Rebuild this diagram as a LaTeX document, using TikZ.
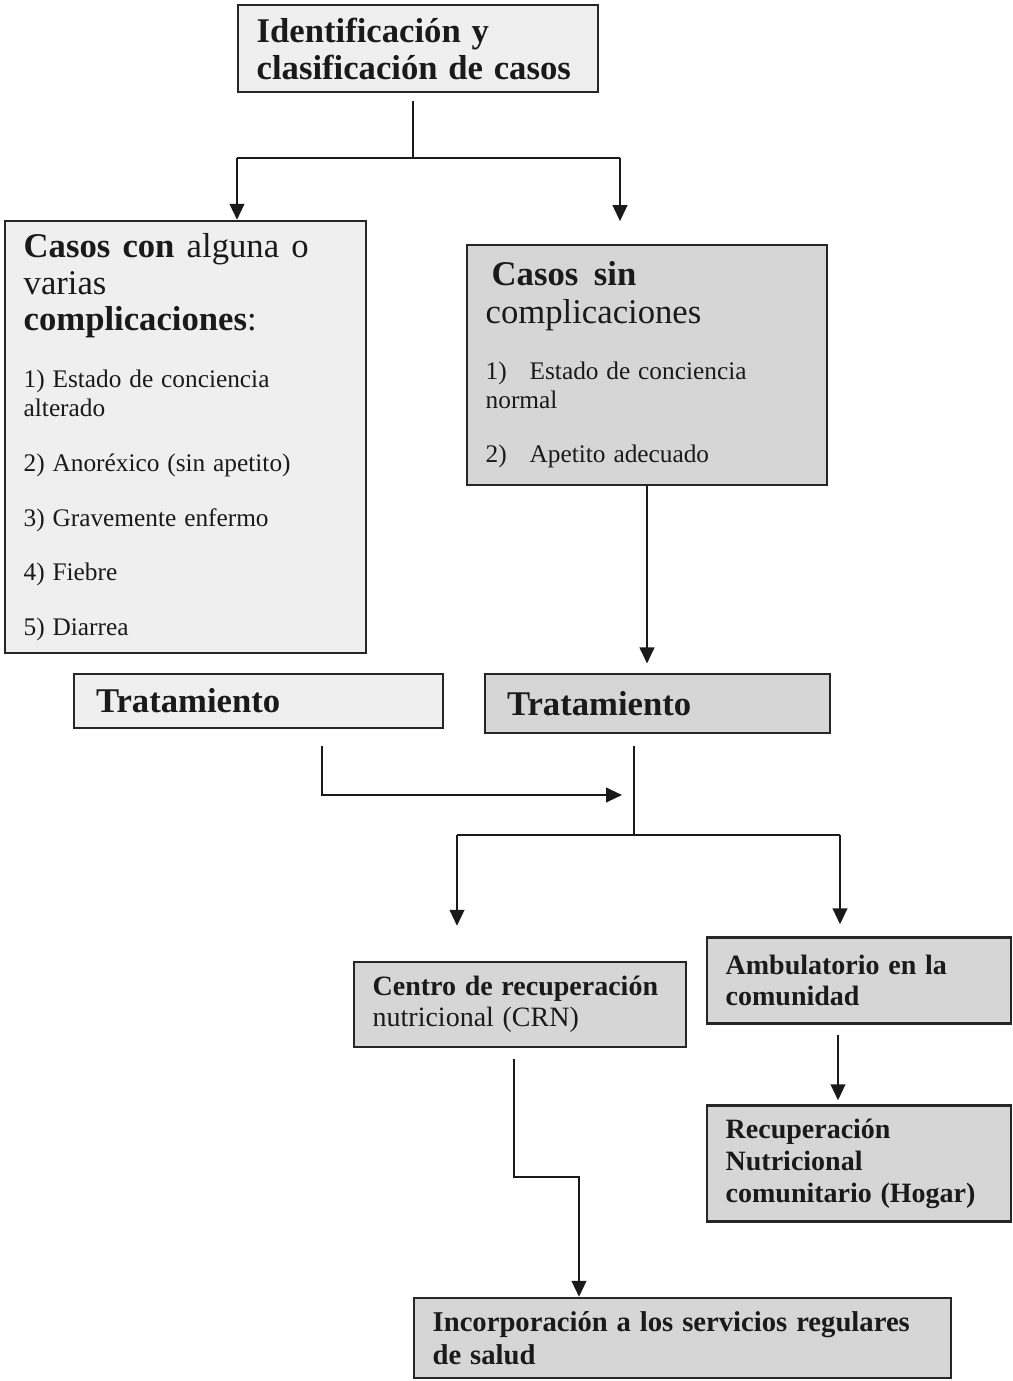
\documentclass[tikz,border=0pt]{standalone}
\usepackage{fontspec}
\setmainfont{Liberation Serif}
\usetikzlibrary{arrows.meta}
\setlength{\parindent}{0pt}
\setlength{\parskip}{0pt}
\newcommand\wsp{\spaceskip=0.31em plus 0.15em minus 0.04em\relax}
\definecolor{lightfill}{HTML}{EFEFEF}
\definecolor{greyfill}{HTML}{D6D6D6}
\definecolor{edge}{HTML}{262626}
\definecolor{ink}{HTML}{1A1A1A}
\begin{document}
\begin{tikzpicture}[x=0.75pt,y=-0.75pt,
 boxbase/.style={draw=edge,line width=1.8pt,align=left,inner xsep=14pt,inner ysep=0pt,text=ink},
 light/.style={boxbase,fill=lightfill},
 grey/.style={boxbase,fill=greyfill},
 conn/.style={draw=ink,line width=1.5pt},
 arr/.style={conn,-{Triangle[length=12pt,width=11pt]}}]
\useasboundingbox[fill=white] (0,0) rectangle (1013,1381);

\node[light,minimum width=270pt,minimum height=65.25pt,text width=242pt] (ident) at (418,48.5)
 {\fontsize{26}{27.75}\selectfont\bfseries\wsp Identificación y\\clasificación de casos\par};

\node[light,minimum width=270.75pt,minimum height=324pt,text width=242.75pt] (compl) at (185.5,437) {%
\fontsize{26}{27.5}\selectfont\wsp\leavevmode\hbox to 213.75pt{\textbf{Casos}\hfil\textbf{con}\hfil alguna\hfil o}\\varias\\\textbf{complicaciones}:\par
\fontsize{19}{21.75}\selectfont\wsp\vspace{21pt}1) Estado de conciencia\\alterado\par
\vspace{19.15pt}2) Anoréxico (sin apetito)\par
\vspace{19.15pt}3) Gravemente enfermo\par
\vspace{19.15pt}4) Fiebre\par
\vspace{19.15pt}5) Diarrea\par};

\node[grey,minimum width=270pt,minimum height=180pt,text width=242pt] (sincompl) at (647,365) {%
\fontsize{26}{28.5}\selectfont\wsp\hspace*{4.5pt}\textbf{Casos\hspace{0.45em}sin}\\complicaciones\par
\fontsize{19}{21.75}\selectfont\wsp\vspace{20.25pt}\makebox[33pt][l]{1)}Estado de conciencia\\normal\par
\vspace{18.75pt}\makebox[33pt][l]{2)}Apetito adecuado\par};

\node[light,inner xsep=16.5pt,minimum width=276.75pt,minimum height=40.5pt,text width=243.75pt] (tratL) at (258.5,701)
 {\fontsize{26}{28}\selectfont\bfseries Tratamiento\par};
\node[grey,inner xsep=16.5pt,minimum width=258.75pt,minimum height=44.25pt,text width=225.75pt] (tratR) at (657.5,703.5)
 {\fontsize{26}{28}\selectfont\bfseries Tratamiento\par};

\node[grey,minimum width=249pt,minimum height=63.75pt,text width=221pt] (crn) at (520,1004.5)
 {\fontsize{21}{23.25}\selectfont\wsp\textbf{Centro de recuperación}\\nutricional (CRN)\par};
\node[grey,minimum width=228pt,minimum height=64.5pt,text width=200pt] (amb) at (859,980.5)
 {\fontsize{21}{23.25}\selectfont\bfseries\wsp Ambulatorio en la\\comunidad\par};
\node[grey,minimum width=228pt,minimum height=87pt,text width=200pt] (rec) at (859,1163.5)
 {\fontsize{21}{24}\selectfont\bfseries\wsp Recuperación\\Nutricional\\comunitario (Hogar)\par};
\node[grey,minimum width=402.75pt,minimum height=60pt,text width=374.75pt] (inc) at (682.5,1338)
 {\fontsize{21.5}{24.75}\selectfont\bfseries\wsp Incorporación a los servicios regulares\\de salud\par};

% connectors
\coordinate (jT) at (413,158);
\coordinate (jL) at (237,158);
\coordinate (jR) at (620,158);
\draw[conn,shorten <=6pt] (ident.south -| jT) -- (jT);
\draw[conn] (jL) -- (jR);
\draw[arr] (jL) -- (compl.north -| jL);
\draw[arr,shorten >=17pt] (jR) -- (sincompl.north -| jR);

\draw[arr,shorten >=7pt] (sincompl.south) -- (sincompl.south |- tratR.north);

\coordinate (mA) at (322,795);
\coordinate (mB) at (622,795);
\draw[arr,shorten <=12.75pt] (tratL.south -| mA) -- (mA) -- (mB);

\coordinate (sT) at (634,835);
\coordinate (sL) at (457,835);
\coordinate (sR) at (840,835);
\draw[conn,shorten <=9pt] (tratR.south -| sT) -- (sT);
\draw[conn] (sL) -- (sR);
\draw[arr,shorten >=26.25pt] (sL) -- (crn.north -| sL);
\draw[arr,shorten >=9pt] (sR) -- (amb.north -| sR);

\coordinate (aX) at (838,1030);
\draw[arr,shorten <=7.5pt,shorten >=3pt] (amb.south -| aX) -- (rec.north -| aX);

\coordinate (cA) at (514,1177);
\coordinate (cB) at (579,1177);
\draw[arr,shorten <=8pt] (crn.south -| cA) -- (cA) -- (cB) -- (inc.north -| cB);
\end{tikzpicture}
\end{document}
